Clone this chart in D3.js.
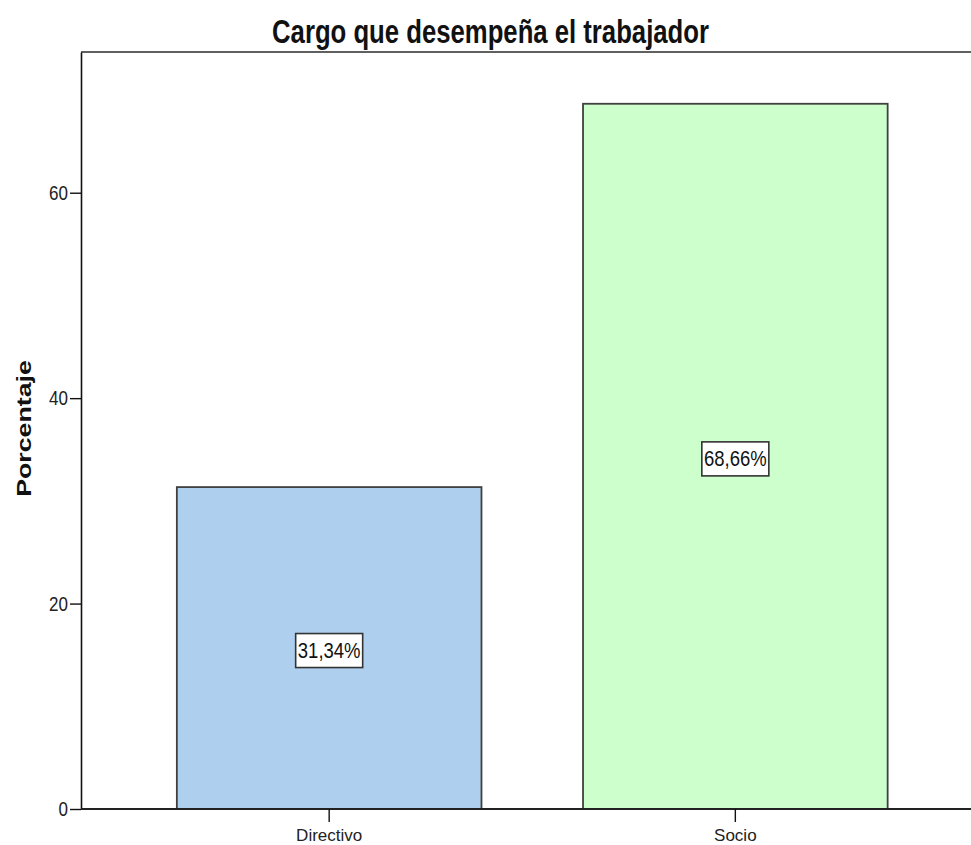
<!DOCTYPE html>
<html><head><meta charset="utf-8">
<script src="https://cdn.jsdelivr.net/npm/d3@7"></script>
<style>body{margin:0;background:#fff}svg{display:block}</style>
</head><body>
<script>
const categories = ["Directivo", "Socio"];
const values = [31.34, 68.66];
const valueLabels = ["31,34%", "68,66%"];
const yTicks = [0, 20, 40, 60];
const colors = ["#aecfee", "#ccffcc"];
const chartTitle = "Cargo que desempeña el trabajador";
const yTitle = "Porcentaje";

(function () {
const W = 971, H = 845;
const pLeft = 81, pTop = 52, pBottom = 809, pRight = 983.5;
const svg = d3.select("body").append("svg").attr("width", W).attr("height", H);

const y = d3.scaleLinear().domain([0, 73.7]).range([pBottom, pTop]);
const x = d3.scaleBand().domain(categories).range([pLeft, pRight]).paddingInner(0.25).paddingOuter(0.236);

const font = "Liberation Sans, Arial, sans-serif";

svg.append("line").attr("x1", pLeft).attr("x2", W).attr("y1", pTop).attr("y2", pTop)
  .attr("stroke", "#606060").attr("stroke-width", 2);

svg.selectAll("rect.bar").data(categories).enter().append("rect")
  .attr("class", "bar")
  .attr("x", d => x(d)).attr("width", x.bandwidth())
  .attr("y", (d, i) => y(values[i])).attr("height", (d, i) => y(0) - y(values[i]))
  .attr("fill", (d, i) => colors[i]).attr("stroke", "#404040").attr("stroke-width", 1.8);

const lab = svg.selectAll("g.lab").data(categories).enter().append("g")
  .attr("transform", (d, i) => `translate(${x(d) + x.bandwidth() / 2},${y(values[i] / 2) + 2.5})`);
lab.append("rect").attr("x", -33.5).attr("y", -17).attr("width", 67).attr("height", 34)
  .attr("fill", "#fff").attr("stroke", "#333").attr("stroke-width", 1.6);
lab.append("text").attr("text-anchor", "middle").attr("transform", "translate(0,7.5) scale(1,1.18)")
  .attr("font-family", font).attr("font-size", 18.5).attr("fill", "#111")
  .text((d, i) => valueLabels[i]);

const ya = svg.append("g").attr("transform", `translate(${pLeft},0)`)
  .call(d3.axisLeft(y).tickValues(yTicks).tickSize(11).tickPadding(2).tickSizeOuter(0));
ya.select(".domain").attr("stroke", "#111").attr("stroke-width", 1.6);
ya.selectAll(".tick line").attr("stroke", "#111").attr("stroke-width", 1.4);
ya.selectAll(".tick text").attr("font-family", font).attr("font-size", 17).attr("fill", "#222")
  .attr("dy", null).attr("transform", "translate(-13,6.5) scale(1,1.23)").attr("x", 0);

const xa = svg.append("g").attr("transform", `translate(0,${pBottom})`)
  .call(d3.axisBottom(x).tickSize(13).tickPadding(7).tickSizeOuter(0));
xa.select(".domain").attr("stroke", "#222").attr("stroke-width", 2).attr("d", `M${pLeft},0H${W}`);
xa.selectAll(".tick line").attr("stroke", "#111").attr("stroke-width", 1.4);
xa.selectAll(".tick text").attr("font-family", font).attr("font-size", 17).attr("fill", "#222");

svg.append("text").attr("transform", "translate(490.5,43) scale(1,1.3)").attr("text-anchor", "middle")
  .attr("font-family", font).attr("font-size", 25.7).attr("font-weight", "bold").attr("fill", "#111")
  .text(chartTitle);

svg.append("text").attr("transform", `translate(31,428.5) rotate(-90) scale(1.37,1)`)
  .attr("text-anchor", "middle").attr("font-family", font).attr("font-size", 19.5)
  .attr("font-weight", "bold").attr("fill", "#111").text(yTitle);
})();
</script>
</body></html>
